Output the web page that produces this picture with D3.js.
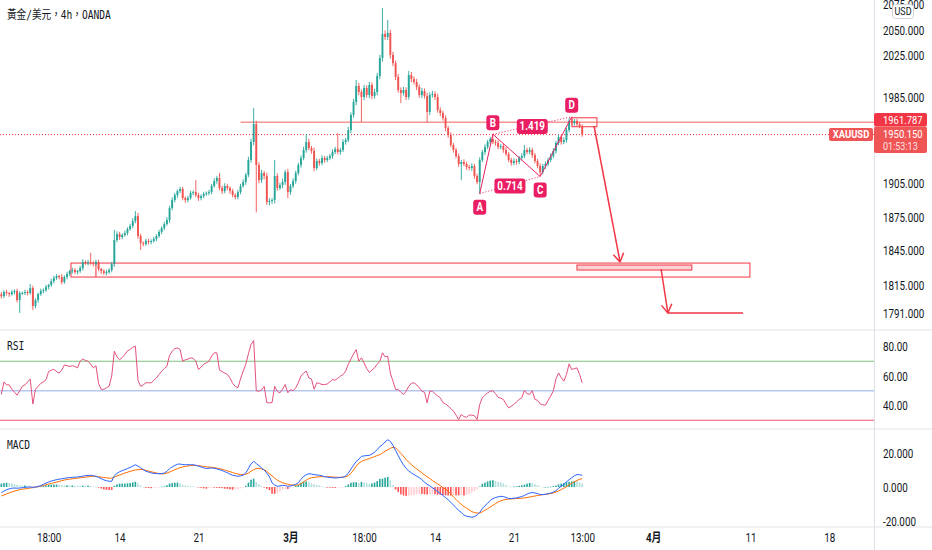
<!DOCTYPE html>
<html>
<head>
<meta charset="utf-8">
<script src="https://cdn.jsdelivr.net/npm/d3@7"></script>
<style>
  body { margin: 0; background: #fff; }
  svg { display: block; }
</style>
</head>
<body>
<div id="chart"></div>
<script>
// ---- data (4h bars, XAUUSD) ----
const tickIndex = [18, 45, 75, 110, 138, 165, 195, 221, 248, 285, 315];
const tickLabels = ["18:00", "14", "21", "3月", "18:00", "14", "21", "13:00", "4月", "11", "18"];
const priceTicks = [2075, 2050, 2025, 1985, 1905, 1875, 1845, 1815, 1791];
const rsiTicks = [80, 60, 40];
const rsiLevels = [70, 50, 30];
const macdTicks = [20, 0, -20];

const firstOpen = 1807;
const closes = [
  1805.5,1809.0,1808.1,1807.3,1809.0,1809.9,1802.1,1808.1,1808.4,1809.0,
  1808.2,1812.5,1797.0,1802.1,1807.3,1809.9,1810.7,1813.3,1815.0,1818.5,
  1821.1,1822.9,1822.0,1817.6,1822.0,1824.6,1827.2,1828.1,1826.3,1827.2,
  1829.8,1835.1,1834.2,1835.1,1834.2,1833.3,1835.1,1829.0,1827.2,1825.5,
  1826.3,1828.1,1833.3,1854.5,1859.8,1857.1,1858.9,1860.7,1864.2,1866.9,
  1871.4,1875.8,1858.0,1851.8,1850.9,1853.6,1852.7,1853.6,1855.3,1858.0,
  1861.6,1865.1,1868.7,1872.3,1883.0,1890.2,1894.7,1898.3,1900.2,1892.0,
  1890.2,1892.0,1896.5,1897.4,1894.7,1892.0,1893.8,1895.6,1896.5,1897.4,
  1902.9,1907.4,1910.2,1901.1,1898.3,1902.9,1901.1,1898.3,1894.7,1892.9,
  1897.4,1902.9,1906.5,1912.9,1926.7,1943.3,1960.0,1922.1,1908.3,1914.7,
  1912.0,1888.4,1889.3,1890.2,1912.0,1901.1,1903.8,1906.5,1915.6,1897.4,
  1902.9,1907.4,1914.7,1922.1,1928.5,1935.9,1943.3,1937.7,1935.0,1919.3,
  1925.7,1923.9,1928.5,1926.7,1928.5,1930.3,1934.0,1936.8,1934.0,1935.9,
  1943.3,1945.1,1954.4,1968.5,1980.7,1996.0,1990.2,1985.5,1994.0,1987.4,
  1996.9,1986.5,1990.2,2005.5,2022.8,2046.1,2043.2,2047.1,2025.7,2017.9,
  2004.5,1992.1,1989.3,1992.1,1985.5,2006.4,2002.6,1999.8,1995.0,1987.4,
  1991.2,1986.5,1971.3,1987.4,1988.4,1985.5,1973.2,1970.4,1965.7,1956.3,
  1949.8,1940.5,1935.9,1930.3,1923.0,1924.8,1923.0,1920.2,1919.3,1921.1,
  1912.0,1906.5,1926.7,1934.0,1938.6,1943.3,1946.1,1943.3,1942.4,1938.6,
  1939.5,1935.9,1932.2,1926.7,1923.9,1925.7,1924.8,1928.5,1930.3,1935.9,
  1934.0,1935.9,1931.2,1925.7,1921.1,1915.6,1921.1,1923.0,1926.7,1930.3,
  1935.0,1942.4,1947.9,1943.3,1945.1,1954.4,1962.9,1961.0,1962.9,1960.0,
  1958.2,1950.15
];
// wick lengths above / below the body, in USD
const upperWicks = [
  2,1.5,2,1,2,1.5,2,1.5,1,2,  1.5,3.5,2,1.5,1,2,1.5,2,1,2,
  2,1.5,1,2.5,1.5,2,1,2,1.5,1,  2,2.5,1.5,2,8,1.5,2,2,1,1.5,
  2,1.5,2,9,2.5,2,1.5,2,1.5,2,  2.5,4.5,3,2,1.5,2,2,1.5,2,1.5,
  2,1.5,2,2.5,2,2.5,2,1.5,2,2,  1.5,2,2,1.5,11,2,1.5,2,1.5,2,
  2,2.5,2,4.5,2,2.5,2,1.5,2,1.5,  2,2,2.5,2,3,3,15,3,2.5,3,
  2,3,2.5,2,14.7,2.5,2,3,2,3,  2,2.5,2,2,2.5,3,7.4,3,2,3,
  2.5,2,2.5,2,2,2,2.5,2,15,2,  2.5,2,3,2.5,3,5.7,3,2.5,3,2.5,
  3,2.5,3,3,3,25.5,3.5,12.7,3,3,  2.5,3,2.5,3,2.5,4,3,2.5,3,2.5,
  3,2.5,3,2.5,3,2.5,3,2.5,2,2.5,  2,2.5,2,2,2.5,2,2.5,2,2,2.5,
  2,2,2.5,2,2.5,2,2,4.4,2,2.5,  2,2,2.5,2,2,2.5,2,2,2.5,4.6,
  2,2.5,2,2,2,2.5,2,2.5,2,2.5,  2.5,2,2.5,2,2.5,2,2.5,3.9,2,2,
  2,1.5
];
const lowerWicks = [
  2,1.5,2,2.5,1.5,2,2,11,1.5,2,  2,1.5,3.5,2,2.5,1.5,2,1.5,2,1.5,
  2,1.5,2,2,1.5,2,1.5,2,1.5,2,  1.5,2,1.5,2,1.5,2,1.5,2,2.5,1.5,
  2,1.5,2,2.5,2,2.5,2,1.5,2,1.5,  2,2,2.5,6,2,1.5,2,2,1.5,2,
  1.5,2,2,1.5,2.5,2,2,2.5,2,2,  2.5,2,1.5,2,2,2.5,2,2,1.5,2,
  2,1.5,2.5,2,2.5,2,2,2.5,2,2,  2,2,1.5,2.5,2,2.5,3,43,3,2.5,
  3,2.5,3,2.5,3,2.5,2,3,2.5,5.4,  2.5,2,2.5,2,2.5,2,2.5,2,2.5,3,
  2,2.5,2,2.5,2,2,2.5,2,2,2.5,  2,2.5,2,3,2.5,3,3,23.6,3,2.5,
  3,3,2.5,3,3,3.5,3,3,3.5,3,  3,2.5,9.5,2.5,3,2.5,3,2.5,3,2.5,
  3,2.5,10,3,2.5,3,2.5,3,2.5,3,  2.5,2,2.5,2,2.5,14.7,2,2.5,2,2.5,
  2.5,2,10.5,2,2.5,2,2,2,2.5,2,  2,2.5,2,2,2.5,2,2.5,2,2,2,
  2,2,2.5,2,2,4,2,2.5,2,2,  2,2.5,2,2.5,2,2.5,2,2,2.5,2,
  2,2
];
const rsiValues = [
  47.5,56,54,54,51,49,47,50,53,54,  56,58,41,51,53,55,56,57.5,63,64,
  64.5,63,62,64,67.5,67,66.5,67,66.5,65.5,  70,71.5,70.5,70,68,65.5,67,55,51,51,
  52,53,60,76.8,73,71,72.5,74.5,77,78,  79.5,80.2,57,53,54,55.4,55.4,55.4,57,58.7,
  61,63.3,65,66.6,74,76.8,78.5,79,78,70,  71,71.5,72.3,72,70,64.4,66,68,68.9,70,
  73.5,75.7,75.7,64,63,62,61,58.7,55,53,  52,58,63.3,67.8,75,81.3,84,50,49.7,50.5,
  53,42,41.8,42,53,49.5,48.6,51,54.2,48.6,  50.8,50,52,55.4,60,62,63.3,58.7,58,51,
  55.4,55,54.2,54.2,54.6,56,57.6,57.2,58.5,59.9,  61,63.3,68,71.5,75,77.9,70,72.3,68.9,65,
  62.5,64,65.5,68,70,75.7,73,73.4,62,56.5,  50.8,50.8,49,47.5,49.7,53,55,55.4,54,52,
  49.7,49,41.8,49.7,49.7,48,46.5,45.2,42,41,  39.6,38,36.2,33.5,30.5,33.9,32.5,32,33.5,33.5,
  33,30.5,40.7,45.2,47,48.5,49.7,50,48,45.5,  45,44.1,41,38.4,39.5,40.7,42.5,44.1,45.2,50.2,
  48,47.5,50,44.1,43.5,41.1,40.5,40.2,43.5,46.3,  50,58,62.1,59,56.5,61,68.2,64.4,65,65.5,
  61,55.4
];
const macdValues = [
  -3.3,-2.4,-1.6,-1.1,-0.7,-0.6,-0.7,-0.6,-0.4,-0.2,  -0.1,0,-0.2,0,0.3,0.8,1.6,2.3,2.9,3.5,
  3.9,4.3,4.6,4.8,5.1,5.4,5.5,5.7,5.8,5.9,  6.1,6.4,6.6,6.8,6.9,6.6,6.3,5.6,4.9,4.2,
  3.7,3.4,3.4,6.5,8,9,9.6,10.2,10.9,11.5,  12.3,13.1,12.3,11.3,10.2,9.3,8.8,8.3,8,7.9,
  7.8,7.9,8.2,9.2,10.8,11.8,12.7,13.4,13.5,13.2,  13.1,13.1,13.1,13.1,12.8,12.3,11.8,11.3,10.9,11,
  11.2,11,10.6,10.2,9.7,9,8.4,7.6,6.9,6.6,  6.3,6.5,7,8.2,10.8,13.6,15.1,13.8,12.6,11.2,
  10,8.2,6,2.5,1.2,0.4,0.6,1,0.8,0.4,  0.6,1,1.6,2.5,4.5,6.2,7.2,7.8,7.6,7.3,
  7.1,6.9,6.5,6.1,5.8,5.6,5.4,5.3,5.4,5.6,  5.7,6.5,8.2,10.5,12.8,15,16.3,18,18.3,18.5,
  18.6,19.4,20.5,22,23.8,24.9,26.5,27.8,26.8,24.5,  21.5,18.5,15.5,13,11,9.5,8.3,7.3,6.4,5.5,
  4.3,2.8,1.6,0.7,-0.4,-1.5,-2.7,-3.8,-5,-6.2,  -7.5,-9,-10.6,-12.2,-13.8,-15,-16.5,-17.2,-17.5,-17.8,
  -17.4,-16.5,-15,-12.7,-11,-9.5,-8,-6.8,-6.2,-5.8,  -5.5,-5.6,-6.2,-6.8,-6.8,-6.6,-6.4,-6,-5.6,-5,
  -4.2,-3.5,-3.3,-3.5,-3.9,-4.4,-4.5,-4.3,-4,-3.6,  -3,-2.2,-0.8,0.5,1.6,3,4.3,5.4,6.6,7.3,
  7.2,6.9
];
const signalValues = [
  -5.3,-4.7,-4.1,-3.5,-2.9,-2.4,-2,-1.6,-1.3,-1.1,  -0.9,-0.6,-0.4,-0.1,0.2,0.5,0.9,1.3,1.7,2.1,
  2.5,2.9,3.3,3.7,4.1,4.4,4.6,4.8,5,5.2,  5.4,5.6,5.8,6,6.2,6.3,6.2,6,5.8,5.6,
  5.4,5.2,5.2,5.8,6.5,7,7.6,8.2,8.7,9.2,  9.6,10,10.2,10.3,10.2,9.8,9.4,9,8.6,8.2,
  7.9,7.7,7.8,8.2,8.8,9.5,10.2,10.8,11.4,11.8,  12.1,12.4,12.6,12.7,12.6,12.5,12.3,12.1,11.9,11.7,
  11.6,11.4,11.1,10.8,10.4,10,9.5,9,8.5,8,  7.6,7.3,7.3,7.5,8.2,9.3,10.2,10.8,11,10.6,
  10.2,9.2,7.8,6.5,5.2,4,3.2,2.5,2,1.6,  1.3,1.1,1,1.3,2,3,4,5,5.4,5.7,
  5.9,6,6.1,6.1,6.1,6,5.9,5.8,5.7,5.7,  5.8,6,6.7,8,10,12.2,14,15,15.7,16.2,
  16.7,17.3,17.9,18.5,19,20,21,21.9,22.8,23.3,  23,21.5,19.8,18,16.2,14.6,13.2,11.9,10.7,9.5,
  8.4,7.1,6,5,3.8,2.8,1.8,0.8,-0.3,-1.3,  -2.5,-4,-5.8,-7.3,-8.9,-10.2,-11.5,-12.5,-13.5,-14.5,
  -15,-15.3,-15.3,-14.6,-13.6,-12.8,-11.8,-10.8,-9.8,-8.8,  -8.2,-7.7,-7.3,-7.1,-7,-6.9,-6.8,-6.7,-6.6,-6.4,
  -6.2,-5.9,-5.6,-5.3,-5,-4.8,-4.5,-4.3,-4.1,-3.8,  -3.5,-3,-2.3,-1.5,-0.7,0.2,1.2,2.2,3.1,3.9,
  4.5,4.9
];

// drawings, in bar index / price
const patternNames = ["A", "B", "C", "D"];
const patternIdx = [182, 187, 205, 217];
const patternPrice = [1896, 1950.5, 1911.6, 1966.8];
const ratioLabels = ["0.714", "1.419"];
const resistancePrice = 1961.787;
const resistanceStart = 91;
const lastPrice = 1950.15;
const countdown = "01:53:13";
const boxes = [            // [fromIdx, toIdx, top, bottom]
  [26.5, 284.8, 1834.2, 1822.0],
  [219, 262.7, 1832.5, 1828.1],
  [217.1, 226.6, 1965.9, 1957.5]
];
const boxDividerIdx = 36;
const arrowPaths = [       // polylines of [idx, price], arrow at the second point
  [[225.5, 1958.2], [235.4, 1835.1]],
  [[251, 1829.0], [253.6, 1791.0], [282.2, 1791.0]]
];

// ---- layout ----
const W = 932, H = 550;
const plotRight = 874;
const paneMain = [0, 330], paneRsi = [330, 429], paneMacd = [429, 527];
const up = "#26a69a", down = "#ef5350", accent = "#f23645", pink = "#e91e63";
const sx = 0.82; // glyph width squeeze seen in the screenshot

const x = d3.scaleLinear().domain([-0.5, 332]).range([0, plotRight]);
const y = d3.scaleLog().domain([2050, 1791]).range([30, 313]);
const yRsi = d3.scaleLinear().domain([80, 40]).range([346.5, 405.5]);
const yMacd = d3.scaleLinear().domain([20, -20]).range([453, 521]);

const candles = closes.map((c, i) => {
  const o = i === 0 ? firstOpen : closes[i - 1];
  return { i, o, c, h: Math.max(o, c) + upperWicks[i], l: Math.min(o, c) - lowerWicks[i] };
});

const svg = d3.select("#chart").append("svg")
  .attr("width", W).attr("height", H)
  .attr("viewBox", `0 0 ${W} ${H}`);
svg.append("rect").attr("width", W).attr("height", H).attr("fill", "#fff");

const defs = svg.append("defs");
[["clipMain", paneMain], ["clipRsi", paneRsi], ["clipMacd", paneMacd]].forEach(([id, p]) => {
  defs.append("clipPath").attr("id", id).append("rect")
    .attr("x", 0).attr("y", p[0]).attr("width", plotRight).attr("height", p[1] - p[0]);
});

function label(g, px, py, s, o = {}) {
  return g.append("text")
    .attr("transform", `translate(${px},${py}) scale(${o.sx || sx},1)`)
    .attr("text-anchor", o.anchor || "start")
    .attr("dominant-baseline", "central")
    .attr("font-family", o.font || "Roboto, 'Noto Sans', sans-serif")
    .attr("font-size", o.size || 12)
    .attr("font-weight", o.weight || "normal")
    .attr("fill", o.fill || "#131722")
    .text(s);
}

// ---- pane separators ----
const frame = svg.append("g").attr("stroke", "#e0e3eb").attr("stroke-width", 1.2);
[paneMain[1], paneRsi[1], paneMacd[1]].forEach(v => {
  frame.append("line").attr("x1", 0).attr("x2", W).attr("y1", v).attr("y2", v);
});
frame.append("line").attr("x1", plotRight + 0.5).attr("x2", plotRight + 0.5).attr("y1", 0).attr("y2", H);

// ---- main pane ----
const main = svg.append("g").attr("clip-path", "url(#clipMain)");

// zones
boxes.forEach((b, k) => {
  main.append("rect")
    .attr("x", x(b[0])).attr("y", y(b[2]))
    .attr("width", x(b[1]) - x(b[0])).attr("height", y(b[3]) - y(b[2]))
    .attr("fill", k === 1 ? "rgba(242,54,69,0.22)" : "rgba(242,54,69,0.02)")
    .attr("stroke", accent).attr("stroke-width", 1);
});
main.append("line")
  .attr("x1", x(boxDividerIdx)).attr("x2", x(boxDividerIdx))
  .attr("y1", y(boxes[0][2])).attr("y2", y(boxes[0][3]))
  .attr("stroke", accent).attr("stroke-width", 1);

// resistance ray and last price line
main.append("line")
  .attr("x1", x(resistanceStart)).attr("x2", plotRight)
  .attr("y1", y(resistancePrice)).attr("y2", y(resistancePrice))
  .attr("stroke", "#f0605a").attr("stroke-width", 1);
main.append("line")
  .attr("x1", 0).attr("x2", plotRight)
  .attr("y1", y(lastPrice)).attr("y2", y(lastPrice))
  .attr("stroke", accent).attr("stroke-width", 1).attr("stroke-dasharray", "1,2");

// candles
const cg = main.append("g");
cg.selectAll("line.wick").data(candles).enter().append("line")
  .attr("x1", d => x(d.i)).attr("x2", d => x(d.i))
  .attr("y1", d => y(d.h)).attr("y2", d => y(d.l))
  .attr("stroke", d => d.c >= d.o ? up : down).attr("stroke-width", 0.9);
cg.selectAll("rect.body").data(candles).enter().append("rect")
  .attr("x", d => x(d.i) - 0.95).attr("width", 1.9)
  .attr("y", d => y(Math.max(d.o, d.c)))
  .attr("height", d => Math.max(1, Math.abs(y(d.o) - y(d.c))))
  .attr("fill", d => d.c >= d.o ? up : down);

// ABCD pattern
const pts = patternIdx.map((v, k) => [x(v), y(patternPrice[k])]);
const pat = main.append("g");
pat.append("path").attr("d", d3.line()(pts))
  .attr("fill", "none").attr("stroke", pink).attr("stroke-width", 1);
[[0, 2], [1, 3]].forEach(([a, b]) => {
  pat.append("line")
    .attr("x1", pts[a][0]).attr("y1", pts[a][1]).attr("x2", pts[b][0]).attr("y2", pts[b][1])
    .attr("stroke", pink).attr("stroke-width", 1).attr("stroke-dasharray", "1,2");
});
function tag(cx, cy, s, w) {
  pat.append("rect").attr("x", cx - w / 2).attr("y", cy - 7.5)
    .attr("width", w).attr("height", 15).attr("rx", 3).attr("fill", pink);
  label(pat, cx, cy, s, { anchor: "middle", fill: "#fff", size: 12, weight: "bold" });
}
pts.forEach((p, k) => tag(p[0], p[1] + (k % 2 === 0 ? 13.5 : -11.5), patternNames[k], 13));
[[0, 2], [1, 3]].forEach(([a, b], k) => {
  tag((pts[a][0] + pts[b][0]) / 2, (pts[a][1] + pts[b][1]) / 2 + 1, ratioLabels[k], 31);
});

// arrows
arrowPaths.forEach(path => {
  const px = path.map(p => [x(p[0]), y(p[1])]);
  main.append("path").attr("d", d3.line()(px))
    .attr("fill", "none").attr("stroke", accent).attr("stroke-width", 1.5);
  const [a, b] = [px[0], px[1]];
  const ang = Math.atan2(b[1] - a[1], b[0] - a[0]);
  [-0.55, 0.55].forEach(da => {
    main.append("line")
      .attr("x1", b[0]).attr("y1", b[1])
      .attr("x2", b[0] - 10 * Math.cos(ang + da)).attr("y2", b[1] - 10 * Math.sin(ang + da))
      .attr("stroke", accent).attr("stroke-width", 1.5);
  });
});

// title
label(svg, 7, 15, "黃金/美元，4h，OANDA", { font: "'DejaVu Sans Mono', 'Noto Sans CJK TC', monospace", size: 12, sx: 0.8 });

// ---- RSI pane ----
const rsiG = svg.append("g").attr("clip-path", "url(#clipRsi)");
const levelColors = ["#7ec07e", "#b6c8f2", "#f0506e"];
rsiLevels.forEach((v, k) => {
  rsiG.append("line").attr("x1", 0).attr("x2", plotRight)
    .attr("y1", yRsi(v)).attr("y2", yRsi(v))
    .attr("stroke", levelColors[k]).attr("stroke-width", k === 1 ? 1.6 : 1.1);
});
rsiG.append("path").datum(rsiValues)
  .attr("d", d3.line().x((d, i) => x(i)).y(d => yRsi(d)))
  .attr("fill", "none").attr("stroke", "#e4517a").attr("stroke-width", 1);
label(svg, 7, 346, "RSI", { font: "'DejaVu Sans Mono', monospace", size: 12, sx: 0.8 });

// ---- MACD pane ----
const macdG = svg.append("g").attr("clip-path", "url(#clipMacd)");
const hist = macdValues.map((m, i) => m - signalValues[i]);
macdG.selectAll("rect").data(hist).enter().append("rect")
  .attr("x", (d, i) => x(i) - 0.8).attr("width", 1.6)
  .attr("y", d => Math.min(yMacd(0), yMacd(d)))
  .attr("height", d => Math.max(0.6, Math.abs(yMacd(d) - yMacd(0))))
  .attr("fill", (d, i) => {
    const prev = i > 0 ? hist[i - 1] : d;
    if (d >= 0) return d >= prev ? "#26a69a" : "#b2dfdb";
    return d <= prev ? "#ff5252" : "#ffcdd2";
  });
const lineAt = d3.line().x((d, i) => x(i)).y(d => yMacd(d));
macdG.append("path").datum(signalValues).attr("d", lineAt)
  .attr("fill", "none").attr("stroke", "#ff6d00").attr("stroke-width", 1);
macdG.append("path").datum(macdValues).attr("d", lineAt)
  .attr("fill", "none").attr("stroke", "#2962ff").attr("stroke-width", 1);
label(svg, 7, 445, "MACD", { font: "'DejaVu Sans Mono', monospace", size: 12, sx: 0.8 });

// ---- axes ----
function styleRight(g) {
  g.select(".domain").remove();
  g.selectAll(".tick line").remove();
  g.selectAll("text")
    .attr("x", 0).attr("dy", "0.35em")
    .attr("transform", `translate(9,0) scale(${sx},1)`)
    .attr("font-family", "Roboto, sans-serif").attr("font-size", 12)
    .attr("fill", "#131722");
}
svg.append("g").attr("transform", `translate(${plotRight},0)`)
  .call(d3.axisRight(y).tickValues(priceTicks).tickFormat(d3.format(".3f")).tickSize(0))
  .call(styleRight);
svg.append("g").attr("transform", `translate(${plotRight},0)`)
  .call(d3.axisRight(yRsi).tickValues(rsiTicks).tickFormat(d3.format(".2f")).tickSize(0))
  .call(styleRight);
svg.append("g").attr("transform", `translate(${plotRight},0)`)
  .call(d3.axisRight(yMacd).tickValues(macdTicks).tickFormat(d => d3.format(".3f")(d).replace("−", "-")).tickSize(0))
  .call(styleRight);

svg.append("g").attr("transform", `translate(0,${paneMacd[1]})`)
  .call(d3.axisBottom(x).tickValues(tickIndex).tickFormat((d, k) => tickLabels[k]).tickSize(0).tickPadding(6))
  .call(g => {
    g.select(".domain").remove();
    g.selectAll("text")
      .attr("transform", `scale(${sx},1)`)
      .attr("font-family", "Roboto, 'Noto Sans CJK SC', sans-serif").attr("font-size", 12)
      .attr("fill", "#131722")
      .attr("font-weight", (d, k) => tickLabels[k].includes("月") ? "bold" : "normal");
  });

// ---- price tags on the right scale ----
const tags = svg.append("g");
tags.append("rect").attr("x", plotRight).attr("y", 113).attr("width", 53).attr("height", 13.5)
  .attr("rx", 2).attr("fill", "#f23645");
label(tags, plotRight + 9, y(resistancePrice) - 2, resistancePrice.toFixed(3), { fill: "#fff", size: 11.5 });
tags.append("rect").attr("x", plotRight).attr("y", 126.5).attr("width", 53).attr("height", 26.5)
  .attr("rx", 2).attr("fill", "#f05555");
label(tags, plotRight + 9, y(lastPrice) - 0.5, lastPrice.toFixed(3), { fill: "#fff", size: 11.5 });
label(tags, plotRight + 9, y(lastPrice) + 12, countdown, { fill: "rgba(255,255,255,0.85)", size: 11 });
tags.append("rect").attr("x", 829).attr("y", y(lastPrice) - 6.5).attr("width", 44).attr("height", 13)
  .attr("rx", 2).attr("fill", "#f05555");
label(tags, 851, y(lastPrice), "XAUUSD", { anchor: "middle", fill: "#fff", weight: "bold", size: 11.5 });

// currency badge (sits over the top tick label, as in the original)
tags.append("rect").attr("x", 892.5).attr("y", 4.5).attr("width", 21).attr("height", 14)
  .attr("rx", 3).attr("fill", "#fff").attr("stroke", "#d1d4dc");
label(tags, 903, 11.5, "USD", { anchor: "middle", size: 11 });
</script>
</body>
</html>
